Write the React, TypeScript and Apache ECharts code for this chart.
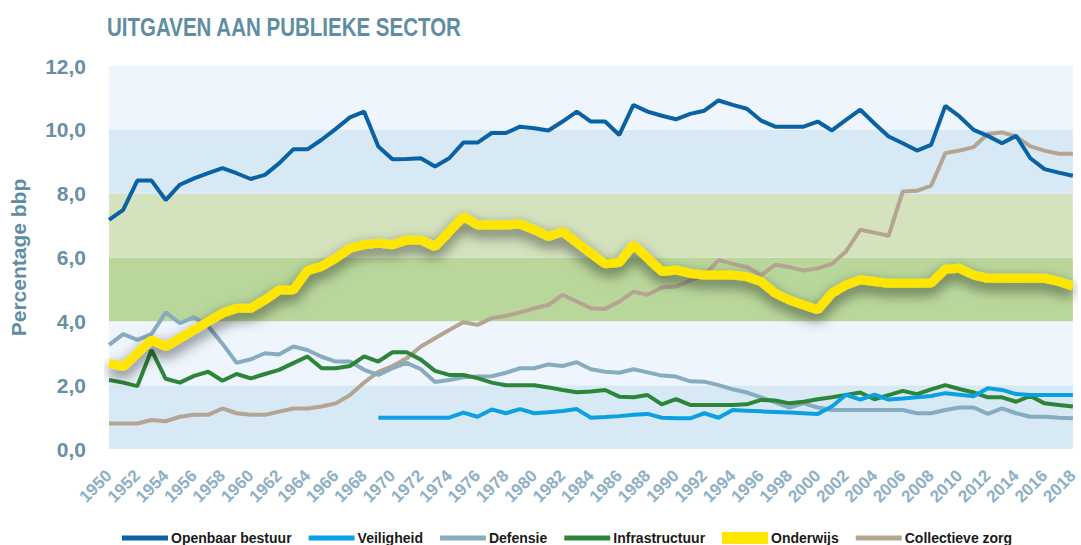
import React, { useEffect, useRef } from "react";
import * as echarts from "echarts";

const years: string[] = [];
for (let y = 1950; y <= 2018; y++) years.push(String(y));

const openbaarBestuur = [
  7.18, 7.49, 8.41, 8.41, 7.8, 8.28, 8.48, 8.64, 8.8, 8.64,
  8.46, 8.59, 8.95, 9.39, 9.39, 9.69, 10.03, 10.39, 10.57, 9.48,
  9.08, 9.09, 9.11, 8.85, 9.11, 9.6, 9.6, 9.9, 9.9, 10.1,
  10.05, 9.98, 10.26, 10.57, 10.26, 10.26, 9.84, 10.78, 10.57, 10.44,
  10.33, 10.5, 10.6, 10.92, 10.78, 10.66, 10.29, 10.1, 10.1, 10.1,
  10.26, 9.98, 10.31, 10.63, 10.2, 9.79, 9.58, 9.35, 9.53, 10.75,
  10.42, 10.0, 9.81, 9.58, 9.81, 9.11, 8.77, 8.66, 8.56,
];

const veiligheid = [
  null, null, null, null, null, null, null, null, null, null,
  null, null, null, null, null, null, null, null, null, 0.98,
  0.98, 0.98, 0.98, 0.98, 0.98, 1.14, 1.01, 1.24, 1.12, 1.25,
  1.12, 1.15, 1.19, 1.25, 0.98, 1.0, 1.03, 1.07, 1.1, 0.98,
  0.96, 0.96, 1.12, 0.98, 1.22, 1.2, 1.18, 1.16, 1.14, 1.12,
  1.1, 1.33, 1.7, 1.55, 1.7, 1.55, 1.58, 1.62, 1.66, 1.75,
  1.7, 1.65, 1.9, 1.85, 1.72, 1.69, 1.69, 1.69, 1.69,
];

const defensie = [
  3.26, 3.6, 3.42, 3.6, 4.28, 3.94, 4.13, 3.85, 3.3, 2.7,
  2.81, 3.0, 2.96, 3.21, 3.1, 2.89, 2.74, 2.74, 2.48, 2.32,
  2.53, 2.7, 2.5, 2.1, 2.16, 2.25, 2.27, 2.28, 2.39, 2.53,
  2.53, 2.65, 2.6, 2.72, 2.5, 2.42, 2.39, 2.5, 2.4, 2.3,
  2.27, 2.12, 2.11, 2.0, 1.87, 1.77, 1.62, 1.46, 1.3, 1.43,
  1.3, 1.22, 1.22, 1.22, 1.22, 1.22, 1.22, 1.12, 1.12, 1.22,
  1.3, 1.3, 1.1, 1.27, 1.12, 1.01, 1.01, 0.98, 0.96,
];

const infrastructuur = [
  2.16, 2.08, 1.97, 3.1, 2.2, 2.08, 2.29, 2.42, 2.14, 2.35,
  2.21, 2.35, 2.48, 2.69, 2.9, 2.53, 2.53, 2.6, 2.9, 2.74,
  3.03, 3.03, 2.8, 2.45, 2.32, 2.32, 2.22, 2.08, 2.0, 2.0,
  2.0, 1.93, 1.85, 1.78, 1.8, 1.85, 1.64, 1.62, 1.69, 1.4,
  1.56, 1.38, 1.38, 1.38, 1.38, 1.4, 1.54, 1.52, 1.43, 1.48,
  1.56, 1.62, 1.69, 1.77, 1.56, 1.69, 1.82, 1.72, 1.87, 2.0,
  1.88, 1.77, 1.62, 1.62, 1.48, 1.66, 1.43, 1.38, 1.33,
];

const onderwijs = [
  2.69, 2.58, 3.0, 3.42, 3.21, 3.47, 3.73, 3.99, 4.25, 4.41,
  4.41, 4.67, 4.98, 4.98, 5.59, 5.72, 5.98, 6.29, 6.4, 6.45,
  6.4, 6.55, 6.55, 6.34, 6.81, 7.28, 7.02, 7.02, 7.02, 7.05,
  6.87, 6.66, 6.81, 6.47, 6.13, 5.8, 5.84, 6.4, 5.98, 5.56,
  5.61, 5.5, 5.45, 5.45, 5.45, 5.4, 5.25, 4.88, 4.67, 4.51,
  4.36, 4.88, 5.14, 5.3, 5.25, 5.19, 5.19, 5.19, 5.2, 5.63,
  5.66, 5.45, 5.35, 5.35, 5.35, 5.35, 5.35, 5.25, 5.11,
];

const collectieveZorg = [
  0.8, 0.8, 0.8, 0.91, 0.87, 1.01, 1.07, 1.07, 1.27, 1.12,
  1.07, 1.07, 1.17, 1.27, 1.27, 1.33, 1.43, 1.69, 2.08, 2.42,
  2.6, 2.84, 3.21, 3.47, 3.73, 3.97, 3.89, 4.1, 4.17, 4.28,
  4.41, 4.51, 4.83, 4.62, 4.41, 4.39, 4.62, 4.93, 4.83, 5.06,
  5.09, 5.28, 5.45, 5.92, 5.8, 5.7, 5.45, 5.77, 5.7, 5.59,
  5.66, 5.8, 6.19, 6.87, 6.78, 6.68, 8.07, 8.09, 8.25, 9.27,
  9.35, 9.46, 9.87, 9.92, 9.79, 9.48, 9.35, 9.25, 9.25,
];

const legendNames = ["Openbaar bestuur", "Veiligheid", "Defensie", "Infrastructuur", "Onderwijs", "Collectieve zorg"];

const TITLE = "UITGAVEN AAN PUBLIEKE SECTOR";
const FONT = "'Liberation Sans', Arial, sans-serif";
const THIN_ICON = "path://M0,0L0,0M0,3.5L46,3.5L46,8.5L0,8.5ZM0,12L0,12";

function measure(text: string, font: string): number {
  const c = document.createElement("canvas");
  const ctx = c.getContext("2d");
  if (!ctx) return 1;
  ctx.font = font;
  return ctx.measureText(text).width || 1;
}

export default function App() {
  const ref = useRef<HTMLDivElement>(null);
  useEffect(() => {
    if (!ref.current) return;
    const chart = echarts.init(ref.current, undefined, { renderer: "svg" });
    const titleFont = `bold 26px ${FONT}`;
    const tw = measure(TITLE, titleFont);
    const titleScale = 355 / tw;

    const mk = (name: string, data: (number | null)[], color: string, width: number, extra: any = {}) => ({
      name,
      type: "line",
      data,
      symbol: "none",
      connectNulls: false,
      lineStyle: { color, width, ...extra },
      itemStyle: { color },
      emphasis: { disabled: true },
    });

    chart.setOption({
      animation: false,
      backgroundColor: "#ffffff",
      graphic: [
        {
          type: "text",
          x: 107,
          y: 27,
          scaleX: titleScale,
          style: {
            text: TITLE,
            font: titleFont,
            fill: "#5f8ea3",
            verticalAlign: "middle",
            align: "left",
          },
        },
      ],
      grid: { left: 105, right: 1, top: 66, bottom: 96, containLabel: false },
      xAxis: {
        type: "category",
        data: years,
        boundaryGap: false,
        axisLine: { show: false },
        axisTick: { show: false },
        splitLine: { show: false },
        axisLabel: {
          interval: 1,
          rotate: 45,
          margin: 24,
          fontSize: 17,
          fontWeight: "bold",
          fontFamily: FONT,
          color: "#8fb0c3",
        },
      },
      yAxis: {
        type: "value",
        min: 0,
        max: 12,
        interval: 2,
        name: "Percentage bbp",
        nameLocation: "middle",
        nameRotate: 90,
        nameGap: 80,
        nameTextStyle: {
          fontSize: 21,
          fontWeight: "bold",
          fontFamily: FONT,
          color: "#5f8ea3",
        },
        axisLine: { show: false },
        axisTick: { show: false },
        splitLine: { show: false },
        splitArea: {
          show: true,
          areaStyle: {
            color: ["#d6e9f5", "#eef5fc", "#b9d79b", "#d4e3bd", "#d6e9f5", "#eef5fc"],
          },
        },
        axisLabel: {
          margin: 23,
          fontSize: 21,
          fontWeight: "bold",
          fontFamily: FONT,
          color: "#6a8fa3",
          formatter: (v: number) => v.toFixed(1).replace(".", ","),
        },
      },
      legend: {
        left: 117,
        top: 526,
        itemWidth: 46,
        itemHeight: 12,
        itemGap: 17,
        selectedMode: false,
        itemStyle: { borderWidth: 0 },
        textStyle: {
          fontSize: 14,
          fontWeight: "bold",
          fontFamily: FONT,
          color: "#1a1a1a",
          padding: [0, 0, 0, -2],
        },
        data: legendNames.map((n) => ({ name: n, icon: n === "Onderwijs" ? "rect" : THIN_ICON })),
      },
      series: [
        mk("Collectieve zorg", collectieveZorg, "#b3a591", 4),
        mk("Defensie", defensie, "#88acbf", 4),
        mk("Infrastructuur", infrastructuur, "#2d8539", 4),
        mk("Veiligheid", veiligheid, "#0ba0e2", 4),
        mk("Openbaar bestuur", openbaarBestuur, "#0a62a5", 4),
        mk("Onderwijs", onderwijs, "#ffe600", 9, {
          shadowColor: "rgba(0,0,0,0.6)",
          shadowBlur: 14,
          shadowOffsetY: 6,
        }),
      ],
    });
    return () => chart.dispose();
  }, []);
  return (
    <div
      ref={ref}
      style={{ position: "absolute", left: 0, top: 0, width: 1081, height: 545 }}
    />
  );
}
